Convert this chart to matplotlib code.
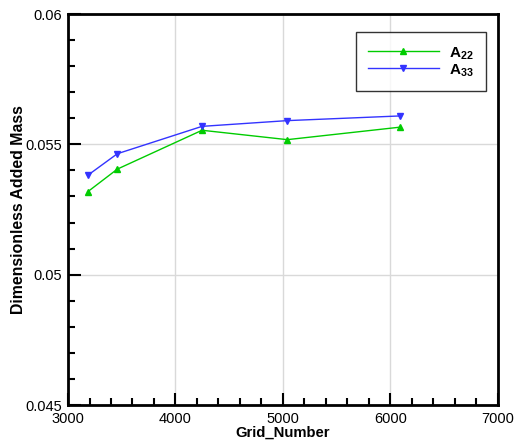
import matplotlib
matplotlib.use("Agg")
import matplotlib.pyplot as plt
from matplotlib.ticker import MultipleLocator

plt.rcParams['font.family'] = ['Liberation Sans', 'DejaVu Sans']
plt.rcParams['mathtext.fontset'] = 'custom'
plt.rcParams['mathtext.rm'] = 'Liberation Sans:bold'
plt.rcParams['mathtext.bf'] = 'Liberation Sans:bold'
plt.rcParams['mathtext.it'] = 'Liberation Sans:bold'

# grid sizes and added mass values
grid_number = [3183, 3459, 4247, 5040, 6091]
a22 = [0.05318, 0.05405, 0.05554, 0.05518, 0.05566]
a33 = [0.05381, 0.05464, 0.05569, 0.05591, 0.05609]
labels = [r'$\mathbf{A_{22}}$', r'$\mathbf{A_{33}}$']


def main():
    fig = plt.figure(figsize=(5.16, 4.42), dpi=100)
    ax = fig.add_axes([0.1318, 0.0837, 0.8332, 0.8846])

    ax.plot(grid_number, a22, color='#00cc00', lw=1, marker='^', ms=5,
            label=labels[0])
    ax.plot(grid_number, a33, color='#3333ff', lw=1, marker='v', ms=5,
            label=labels[1])

    ax.set_xlim(3000, 7000)
    ax.set_ylim(0.045, 0.06)
    ax.xaxis.set_major_locator(MultipleLocator(1000))
    ax.xaxis.set_minor_locator(MultipleLocator(200))
    ax.yaxis.set_minor_locator(MultipleLocator(0.001))
    ax.set_yticks([0.045, 0.05, 0.055, 0.06])
    ax.set_yticklabels(['0.045', '0.05', '0.055', '0.06'])

    ax.grid(True, which='major', color='#d9d9d9', lw=1)
    ax.set_axisbelow(True)
    ax.tick_params(which='both', direction='in', top=False, right=False,
                   labelsize=10.5, width=1.5)
    ax.tick_params(which='major', length=9)
    ax.tick_params(which='minor', length=5)
    ax.tick_params(axis='x', pad=5)
    ax.tick_params(axis='y', pad=4)
    for s in ax.spines.values():
        s.set_linewidth(2)

    ax.set_xlabel('Grid_Number', fontsize=10.7, fontweight='bold', labelpad=0)
    ax.set_ylabel('Dimensionless Added Mass', fontsize=11.4, fontweight='bold',
                  labelpad=0)

    # legend box sits at about 356..478 px, 32..91 px in the reference
    leg = ax.legend(loc='upper left', bbox_to_anchor=(0.670, 0.954),
                    fontsize=11, frameon=True, fancybox=False,
                    edgecolor='black', handlelength=4.6, borderpad=0.8,
                    labelspacing=0, handleheight=1.2, handletextpad=0.7,
                    borderaxespad=0)
    leg.get_frame().set_linewidth(1)

    plt.savefig('out.png', dpi=100)


if __name__ == '__main__':
    main()
